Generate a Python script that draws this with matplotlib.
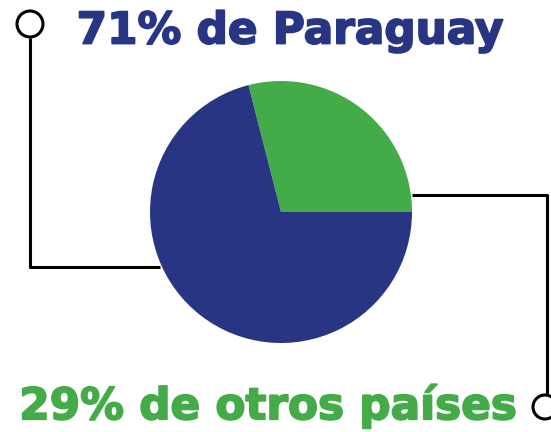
import matplotlib
matplotlib.use("Agg")
import matplotlib.pyplot as plt
import matplotlib.patheffects as pe
from matplotlib.patches import Circle

labels = ["29% de otros países", "71% de Paraguay"]
shares = [29, 71]
colors = ["#43ac48", "#283583"]

W, H = 551, 432
fig = plt.figure(figsize=(W / 100, H / 100), dpi=100)
ax = fig.add_axes([0, 0, 1, 1])

# pie in pixel coordinates (y flipped)
cx, cy, r = 281, H - 212, 131
ax.pie(shares, colors=colors, startangle=0, counterclock=True,
       center=(cx, cy), radius=r, wedgeprops=dict(linewidth=0))

ax.set_xlim(0, W)
ax.set_ylim(0, H)
ax.set_aspect("equal")
ax.axis("off")

# connector lines
lw = 2.2
ax.plot([30, 30, 160], [H - 38, H - 267, H - 267], color="black", lw=lw,
        solid_capstyle="butt", zorder=0)
ax.add_patch(Circle((30, H - 24), 13, fill=False, ec="black", lw=lw))
ax.plot([412, 547, 547], [H - 195, H - 195, H - 395], color="black", lw=lw,
        solid_capstyle="butt", zorder=0)
ax.add_patch(Circle((545, H - 407), 12, fill=False, ec="black", lw=lw,
                    clip_on=False))

font = dict(fontsize=31.5, fontfamily="DejaVu Sans", fontweight="bold",
            ha="center", va="center")
for txt, col, x, y in [(labels[1], colors[1], 290, H - 31),
                       (labels[0], colors[0], 268, H - 406)]:
    ax.text(x, y, txt, color=col, **font,
            path_effects=[pe.withStroke(linewidth=1.3, foreground=col)])

fig.savefig("out.png", dpi=100)
